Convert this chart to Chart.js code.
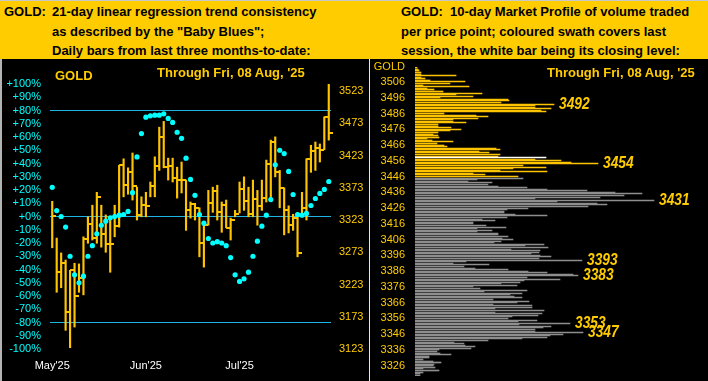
<!DOCTYPE html>
<html><head><meta charset="utf-8">
<script src="https://cdn.jsdelivr.net/npm/chart.js@4.4.1/dist/chart.umd.min.js"></script>
<style>
html,body{margin:0;padding:0;background:#000;}
#wrap{position:relative;width:708px;height:381px;overflow:hidden;background:#000;}
#hdr{position:absolute;left:0;top:0;width:708px;height:59px;background:#FFCC00;border-top:1px solid #c8c8c8;box-sizing:border-box;}
.h{position:absolute;font:bold 13px "Liberation Sans",Arial,sans-serif;color:#000;white-space:nowrap;line-height:15px;}
.t{position:absolute;font:bold 13px "Liberation Sans",Arial,sans-serif;color:#FFCC00;white-space:nowrap;line-height:15px;}
canvas{position:absolute;}
</style></head>
<body><div id="wrap">
<div id="hdr"></div>
<div class="h" style="left:4px;top:4px">GOLD:</div>
<div class="h" style="left:52px;top:4px">21-day linear regression trend consistency</div>
<div class="h" style="left:52px;top:23.5px">as described by the "Baby Blues";</div>
<div class="h" style="left:52px;top:43px">Daily bars from last three months-to-date:</div>
<div class="h" style="left:401px;top:4px">GOLD:</div>
<div class="h" style="left:450px;top:4px">10-day Market Profile of volume traded</div>
<div class="h" style="left:401px;top:23.5px">per price point; coloured swath covers last</div>
<div class="h" style="left:401px;top:43px">session, the white bar being its closing level:</div>
<canvas id="left" width="369" height="322" style="left:0;top:59px"></canvas>
<canvas id="right" width="338" height="322" style="left:370px;top:59px"></canvas>
<div style="position:absolute;left:0;top:59px;width:2px;height:322px;background:#b4b4b4"></div>
<div style="position:absolute;left:369px;top:59px;width:1px;height:322px;background:#e6e6e6"></div>
<div class="t" style="left:55px;top:68px">GOLD</div>
<div class="t" style="left:157px;top:65px">Through Fri, 08 Aug, '25</div>
<div class="t" style="left:547px;top:65px">Through Fri, 08 Aug, '25</div>
<div style="position:absolute;left:370px;top:59.5px;width:35px;text-align:right;font:11px 'Liberation Sans',Arial,sans-serif;color:#FFCC00;line-height:13px">GOLD</div>
</div>
<script>
// ---------- Left panel data: daily bars + "Baby Blues" ----------
const DAYS = ['09 May','12 May','13 May','14 May','15 May','16 May','19 May','20 May','21 May','22 May','23 May','27 May','28 May','29 May','30 May',
'02 Jun','03 Jun','04 Jun','05 Jun','06 Jun','09 Jun','10 Jun','11 Jun','12 Jun','13 Jun','16 Jun','17 Jun','18 Jun','20 Jun','23 Jun','24 Jun','25 Jun','26 Jun','27 Jun','30 Jun',
'01 Jul','02 Jul','03 Jul','07 Jul','08 Jul','09 Jul','10 Jul','11 Jul','14 Jul','15 Jul','16 Jul','17 Jul','18 Jul','21 Jul','22 Jul','23 Jul','24 Jul','25 Jul','28 Jul','29 Jul','30 Jul','31 Jul',
'01 Aug','04 Aug','05 Aug','06 Aug','07 Aug','08 Aug'];
const HIGH = [3352,3295,3272,3261,3245,3256,3255,3297,3328,3346,3366,3346,3331,3328,3346,3408,3418,3404,3427,3374,3359,3366,3382,3421,3467,3476,3419,3419,3405,3413,3385,3351,3349,3342,3320,3369,3374,3377,3351,3354,3326,3338,3382,3390,3374,3385,3369,3385,3416,3447,3452,3400,3373,3345,3332,3334,3366,3418,3439,3444,3441,3483,3534];
const LOW  = [3280,3211,3218,3152,3125,3157,3211,3207,3287,3292,3287,3281,3273,3242,3297,3312,3359,3363,3354,3323,3328,3328,3359,3359,3400,3404,3385,3382,3357,3365,3307,3326,3323,3266,3250,3315,3335,3323,3304,3311,3292,3328,3334,3338,3328,3328,3315,3338,3351,3357,3390,3342,3300,3303,3307,3266,3328,3323,3397,3400,3413,3432,3447];
const CLOSE= [3329,3242,3256,3180,3245,3205,3233,3293,3317,3295,3359,3301,3286,3286,3314,3408,3377,3397,3376,3331,3346,3345,3376,3407,3452,3405,3407,3388,3385,3385,3338,3348,3342,3287,3315,3349,3368,3335,3346,3311,3323,3332,3371,3352,3332,3356,3345,3357,3410,3444,3397,3373,3338,3315,3326,3272,3342,3418,3430,3435,3432,3483,3458];
const BLUES = [22,4.5,0,-8,-30,-44,-50,-45,-30,-22,-13,-6.6,-3.5,-1,0,1,1.5,3.8,
18,45,62.6,75,76,76.5,76.5,77.5,74,71,63.6,59,44,28,16,1.5,
-5,-16.6,-20,-19,-20,-22,-31,-44,-49,-47,-42,-30,-18.6,-7.3,1,12.8,39,50,47.5,34,16.6,1.5,1,2.3,8.3,13.6,17.4,20.4,26.4];
const PCT_REF_LINES = [80, 0, -80];
const PRICE_TICKS = [3123,3173,3223,3273,3323,3373,3423,3473,3523];
const MONTH_TICK_INDEX = [0, 21, 42];
const MONTH_TICK_LABELS = ["May'25", "Jun'25", "Jul'25"];

// ---------- Right panel data: 10-day market profile ----------
const PROFILE_TOP = 3515;   // highest price point
const PROFILE = [
/*3515*/ 2,3,4,6,6,41,6,10,15,50,
/*3505*/ 35,8,54,12,19,28,67,41,58,25,
/*3495*/ 93,94,86,139,120,120,136,126,131,29,
/*3485*/ 61,73,63,38,38,51,23,23,36,46,
/*3475*/ 35,23,18,23,24,12,17,38,22,29,
/*3465*/ 32,81,85,64,74,85,83,131,120,146,
/*3455*/ 156,183,108,131,98,85,132,58,70,103,
/*3445*/ 108,62,53,77,73,83,112,132,172,200,
/*3435*/ 227,209,185,120,239,142,182,192,173,113,
/*3425*/ 92,89,89,100,132,92,67,80,58,58,
/*3415*/ 71,91,62,77,62,83,83,93,87,98,
/*3405*/ 86,79,129,110,133,96,125,124,116,125,
/*3395*/ 136,124,167,51,38,74,49,60,93,113,
/*3385*/ 132,158,163,112,145,109,105,86,102,58,
/*3375*/ 65,112,69,107,95,99,107,78,114,102,
/*3365*/ 78,117,117,80,129,80,127,123,97,93,
/*3355*/ 122,103,155,104,136,128,120,120,168,148,
/*3345*/ 135,132,107,73,39,49,50,60,56,24,
/*3335*/ 22,25,36,14,14,8,18,26,19,18,
/*3325*/ 20,8,24,8,5,5
];
const PRICES = PROFILE.map((v, i) => PROFILE_TOP - i);
const SWATH_LOW = 3446;      // last session coloured swath bottom
const CLOSE_LEVEL = 3458;    // white bar
const PEAKS = [3492, 3454, 3431, 3393, 3383, 3353, 3347];

const GOLD = '#FFC400', GOLDTXT = '#FFCC00', CYAN = '#00FFFF', LINE = '#20B4E6', GRAY = '#8E8E8E';
Chart.defaults.font.family = '"Liberation Sans", Arial, sans-serif';
Chart.defaults.font.size = 11;
Chart.defaults.animation = false;

// close tick marker (extends to the right of the bar)
const tick = document.createElement('canvas');
tick.width = 8; tick.height = 2;
const tc = tick.getContext('2d'); tc.fillStyle = GOLD; tc.fillRect(4, 0, 4, 2);

new Chart(document.getElementById('left'), {
  type: 'bar',
  data: {
    labels: DAYS,
    datasets: [
      { type: 'line', data: BLUES, yAxisID: 'y', showLine: false, pointRadius: 2.6,
        pointBackgroundColor: CYAN, pointBorderWidth: 0, order: 0 },
      { type: 'line', data: CLOSE, yAxisID: 'y1', showLine: false, pointRadius: 2,
        pointStyle: tick, order: 1 },
      { type: 'bar', data: LOW.map((l, i) => [l, HIGH[i]]), yAxisID: 'y1',
        backgroundColor: GOLD, barThickness: 1.5, order: 2 }
    ]
  },
  options: {
    responsive: false, devicePixelRatio: 1,
    layout: { padding: { top: 25, left: 0, right: 0, bottom: 0 } },
    plugins: { legend: { display: false }, tooltip: { enabled: false } },
    scales: {
      x: { type: 'category', offset: true, grid: { display: false, drawTicks: false }, border: { display: false },
        afterFit: s => { s.height = 32; },
        ticks: { autoSkip: false, maxRotation: 0, padding: 10, color: '#FFFFFF',
          callback: (v, i) => { const k = MONTH_TICK_INDEX.indexOf(i); return k >= 0 ? MONTH_TICK_LABELS[k] : ''; } } },
      y: { position: 'left', min: -100, max: 100, border: { display: false },
        afterFit: s => { s.width = 50; },
        grid: { drawTicks: false, lineWidth: 1,
          color: c => PCT_REF_LINES.includes(c.tick.value) ? LINE : 'rgba(0,0,0,0)' },
        ticks: { stepSize: 10, autoSkip: false, padding: 9, color: CYAN,
          callback: v => (v >= 0 ? '+' : '') + v + '%' } },
      y1: { position: 'right', min: 3123, max: 3534, border: { display: false },
        afterFit: s => { s.width = 38; },
        afterBuildTicks: s => { s.ticks = PRICE_TICKS.map(v => ({ value: v })); },
        grid: { display: false, drawTicks: false },
        ticks: { autoSkip: false, padding: 8, color: GOLDTXT, callback: v => String(v) } }
    }
  }
});

// snap the 1px profile bars onto whole pixel rows (positions still come from the scale)
const snapRows = {
  id: 'snapRows',
  beforeDatasetsDraw(chart) {
    chart.getDatasetMeta(0).data.forEach(el => { el.y = Math.floor(el.y) + 0.5; });
  }
};

const peakLabels = {
  id: 'peakLabels',
  afterDatasetsDraw(chart) {
    const meta = chart.getDatasetMeta(0);
    const ctx = chart.ctx;
    ctx.save();
    ctx.font = 'italic bold 16px "Liberation Sans", Arial, sans-serif';
    ctx.fillStyle = GOLDTXT;
    ctx.textBaseline = 'middle';
    PEAKS.forEach(p => {
      const el = meta.data[PRICES.indexOf(p)];
      ctx.save();
      ctx.translate(el.x + 5, el.y);
      ctx.scale(0.86, 1);
      ctx.fillText(String(p), 0, 0);
      ctx.restore();
    });
    ctx.restore();
  }
};

new Chart(document.getElementById('right'), {
  type: 'bar',
  data: {
    labels: PRICES,
    datasets: [{
      data: PROFILE, barThickness: 1,
      backgroundColor: PRICES.map(p => p === CLOSE_LEVEL ? '#FFFFFF' : (p >= SWATH_LOW ? GOLD : GRAY))
    }]
  },
  options: {
    indexAxis: 'y', responsive: false, devicePixelRatio: 1,
    layout: { padding: { top: 8, bottom: 5, left: 0, right: 0 } },
    plugins: { legend: { display: false }, tooltip: { enabled: false } },
    scales: {
      x: { type: 'linear', display: false, min: 0, max: 293 },
      y: { type: 'category', offset: true, border: { display: false },
        grid: { display: false, drawTicks: false },
        afterFit: s => { s.width = 45; s.paddingTop = 0; s.paddingBottom = 0; },
        ticks: { autoSkip: false, padding: 10, color: GOLDTXT,
          callback: (v, i) => (PRICES[i] % 10 === 6 ? String(PRICES[i]) : '') } }
    }
  },
  plugins: [snapRows, peakLabels]
});
</script>
</body></html>
